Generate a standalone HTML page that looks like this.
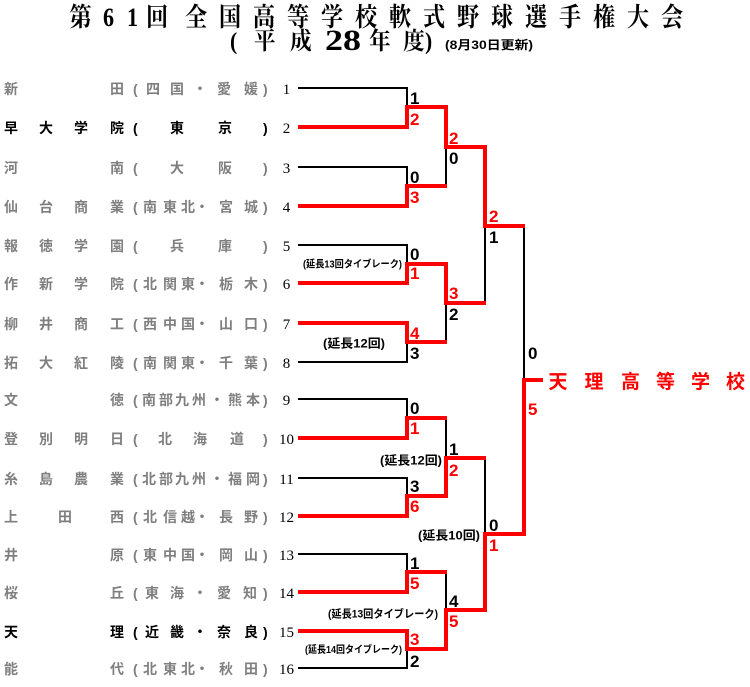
<!DOCTYPE html>
<html>
<head>
<meta charset="utf-8">
<style>
  html,body{margin:0;padding:0;background:#fff;}
  svg{display:block;}
</style>
</head>
<body>
<svg width="750" height="687" viewBox="0 0 750 687" xmlns="http://www.w3.org/2000/svg">
<rect width="750" height="687" fill="#fff"/>

<!-- Title -->
<g font-family="'Liberation Serif','Noto Serif CJK JP',serif" font-weight="bold" fill="#000">
  <text transform="scale(0.85,1)" font-size="26" y="26" x="81.8 121.2 149.4 171.8 217.6 257.6 297.6 337.6 377.6 417.6 457.6 497.6 537.6 577.6 617.6 657.6 697.6 737.6 777.6">第61回全国高等学校軟式野球選手権大会</text>
  <text transform="scale(0.9,1)" font-size="24" y="49" x="255.6 282.2 322.2">(平成</text>
  <text font-size="30" y="50" x="325" textLength="36" lengthAdjust="spacingAndGlyphs">28</text>
  <text transform="scale(0.9,1)" font-size="24" y="49" x="410 447.8 472.2">年度)</text>
</g>
<text x="445" y="49" font-size="12" font-family="'Liberation Sans','Noto Sans CJK JP',sans-serif" font-weight="bold" textLength="88" lengthAdjust="spacingAndGlyphs">(8月30日更新)</text>

<!-- Team list -->
<g font-family="'Liberation Sans','Noto Sans CJK JP',sans-serif" font-weight="bold" font-size="14" fill="#7f7f7f">
  <text y="94" x="4 110">新田</text>
  <text y="94" x="133">(</text><text y="94" x="146 170 193 217 244">四国・愛媛</text><text y="94" x="263">)</text>
  <g fill="#000">
  <text y="133" x="4 39 74 110">早大学院</text>
  <text y="133" x="133">(</text><text y="133" x="170 218">東京</text><text y="133" x="263">)</text>
  </g>
  <text y="173" x="4 110">河南</text>
  <text y="173" x="133">(</text><text y="173" x="170 218">大阪</text><text y="173" x="263">)</text>
  <text y="212" x="4 39 74 110">仙台商業</text>
  <text y="212" x="133">(</text><text y="212" x="143 163 181 195 219 244">南東北・宮城</text><text y="212" x="263">)</text>
  <text y="251" x="4 39 74 110">報徳学園</text>
  <text y="251" x="133">(</text><text y="251" x="170 218">兵庫</text><text y="251" x="263">)</text>
  <text y="289" x="4 39 74 110">作新学院</text>
  <text y="289" x="133">(</text><text y="289" x="143 163 181 195 219 244">北関東・栃木</text><text y="289" x="263">)</text>
  <text y="329" x="4 39 74 110">柳井商工</text>
  <text y="329" x="133">(</text><text y="329" x="143 163 181 195 219 244">西中国・山口</text><text y="329" x="263">)</text>
  <text y="368" x="4 39 74 110">拓大紅陵</text>
  <text y="368" x="133">(</text><text y="368" x="143 163 181 195 219 244">南関東・千葉</text><text y="368" x="263">)</text>
  <text y="405" x="4 110">文徳</text>
  <text y="405" x="133">(</text><text y="405" x="142 159 175 192 210 228 246">南部九州・熊本</text><text y="405" x="263">)</text>
  <text y="444" x="4 39 74 110">登別明日</text>
  <text y="444" x="133">(</text><text y="444" x="158 193 230">北海道</text><text y="444" x="263">)</text>
  <text y="484" x="4 39 74 110">糸島農業</text>
  <text y="484" x="133">(</text><text y="484" x="142 159 175 192 210 228 246">北部九州・福岡</text><text y="484" x="263">)</text>
  <text y="522" x="4 58 110">上田西</text>
  <text y="522" x="133">(</text><text y="522" x="143 163 181 195 219 244">北信越・長野</text><text y="522" x="263">)</text>
  <text y="560" x="4 110">井原</text>
  <text y="560" x="133">(</text><text y="560" x="143 163 181 195 219 244">東中国・岡山</text><text y="560" x="263">)</text>
  <text y="598" x="4 110">桜丘</text>
  <text y="598" x="133">(</text><text y="598" x="145 170 193 217 243">東海・愛知</text><text y="598" x="263">)</text>
  <g fill="#000">
  <text y="637" x="4 110">天理</text>
  <text y="637" x="133">(</text><text y="637" x="145 170 193 217 244">近畿・奈良</text><text y="637" x="263">)</text>
  </g>
  <text y="674" x="4 110">能代</text>
  <text y="674" x="133">(</text><text y="674" x="143 163 181 195 219 244">北東北・秋田</text><text y="674" x="263">)</text>
</g>

<!-- seed numbers -->
<g font-family="'Liberation Serif',serif" font-size="15" fill="#000" text-anchor="middle">
  <text x="286.5" y="94">1</text>
  <text x="286.5" y="133">2</text>
  <text x="286.5" y="173">3</text>
  <text x="286.5" y="212">4</text>
  <text x="286.5" y="251">5</text>
  <text x="286.5" y="289">6</text>
  <text x="286.5" y="329">7</text>
  <text x="286.5" y="368">8</text>
  <text x="286.5" y="405">9</text>
  <text x="286.5" y="444">10</text>
  <text x="286.5" y="484">11</text>
  <text x="286.5" y="522">12</text>
  <text x="286.5" y="560">13</text>
  <text x="286.5" y="598">14</text>
  <text x="286.5" y="637">15</text>
  <text x="286.5" y="674">16</text>
</g>

<!-- Black bracket lines -->
<g stroke="#000" stroke-width="2" fill="none" stroke-linejoin="miter">
  <path d="M298 88 H407 V107"/>
  <path d="M298 167 H407 V186"/>
  <path d="M298 245 H407 V264"/>
  <path d="M298 362 H407 V342"/>
  <path d="M298 399 H407 V418"/>
  <path d="M298 478 H407 V496"/>
  <path d="M298 554 H407 V572"/>
  <path d="M298 668 H407 V649"/>
  <path d="M446 186 V147"/>
  <path d="M446 342 V303"/>
  <path d="M446 418 V458"/>
  <path d="M446 572 V610"/>
  <path d="M485 303 V226"/>
  <path d="M485 458 V534"/>
  <path d="M524 226 V380"/>
</g>

<!-- Red winner paths -->
<g stroke="#ff0000" stroke-width="4" fill="none" stroke-linejoin="miter" stroke-linecap="butt">
  <path d="M298 127 H407 V107 H446 V147 H485 V226 H525"/>
  <path d="M298 206 H407 V186 H447"/>
  <path d="M298 283 H407 V264 H446 V303 H486"/>
  <path d="M298 323 H407 V342 H447"/>
  <path d="M298 438 H407 V418 H447"/>
  <path d="M298 516 H407 V496 H446 V458 H486"/>
  <path d="M298 592 H407 V572 H447"/>
  <path d="M298 631 H407 V649 H446 V610 H485 V534 H524 V380 H543"/>
</g>

<!-- Scores -->
<g font-family="'Liberation Sans',sans-serif" font-weight="bold" font-size="17">
  <text x="410" y="104" fill="#000">1</text>
  <text x="410" y="125" fill="#ff0000">2</text>
  <text x="410" y="183" fill="#000">0</text>
  <text x="410" y="203" fill="#ff0000">3</text>
  <text x="410" y="260" fill="#000">0</text>
  <text x="410" y="279" fill="#ff0000">1</text>
  <text x="410" y="339" fill="#ff0000">4</text>
  <text x="410" y="359" fill="#000">3</text>
  <text x="410" y="414" fill="#000">0</text>
  <text x="410" y="434" fill="#ff0000">1</text>
  <text x="410" y="492" fill="#000">3</text>
  <text x="410" y="512" fill="#ff0000">6</text>
  <text x="410" y="569" fill="#000">1</text>
  <text x="410" y="589" fill="#ff0000">5</text>
  <text x="410" y="645" fill="#ff0000">3</text>
  <text x="410" y="667" fill="#000">2</text>
  <text x="449" y="144" fill="#ff0000">2</text>
  <text x="449" y="164" fill="#000">0</text>
  <text x="449" y="299" fill="#ff0000">3</text>
  <text x="449" y="320" fill="#000">2</text>
  <text x="449" y="455" fill="#000">1</text>
  <text x="449" y="476" fill="#ff0000">2</text>
  <text x="449" y="607" fill="#000">4</text>
  <text x="449" y="627" fill="#ff0000">5</text>
  <text x="489" y="222" fill="#ff0000">2</text>
  <text x="489" y="243" fill="#000">1</text>
  <text x="489" y="531" fill="#000">0</text>
  <text x="489" y="551" fill="#ff0000">1</text>
  <text x="528" y="359" fill="#000">0</text>
  <text x="528" y="415" fill="#ff0000">5</text>
</g>

<!-- Extra-inning labels -->
<g font-family="'Liberation Sans','Noto Sans CJK JP',sans-serif" font-weight="bold" fill="#000">
  <text x="303" y="267.5" font-size="10" textLength="99" lengthAdjust="spacingAndGlyphs">(延長13回タイブレーク)</text>
  <text x="323" y="347.5" font-size="12" textLength="62" lengthAdjust="spacingAndGlyphs">(延長12回)</text>
  <text x="380" y="464.5" font-size="12" textLength="62" lengthAdjust="spacingAndGlyphs">(延長12回)</text>
  <text x="418" y="539.5" font-size="12" textLength="62" lengthAdjust="spacingAndGlyphs">(延長10回)</text>
  <text x="328" y="617.5" font-size="11" textLength="110" lengthAdjust="spacingAndGlyphs">(延長13回タイブレーク)</text>
  <text x="305" y="653" font-size="10" textLength="97" lengthAdjust="spacingAndGlyphs">(延長14回タイブレーク)</text>
</g>

<!-- Champion -->
<text y="388" x="548.5 584.5 621 656 691 726" font-family="'Liberation Sans','Noto Sans CJK JP',sans-serif" font-weight="bold" font-size="19" fill="#ff0000">天理高等学校</text>

</svg>
</body>
</html>
